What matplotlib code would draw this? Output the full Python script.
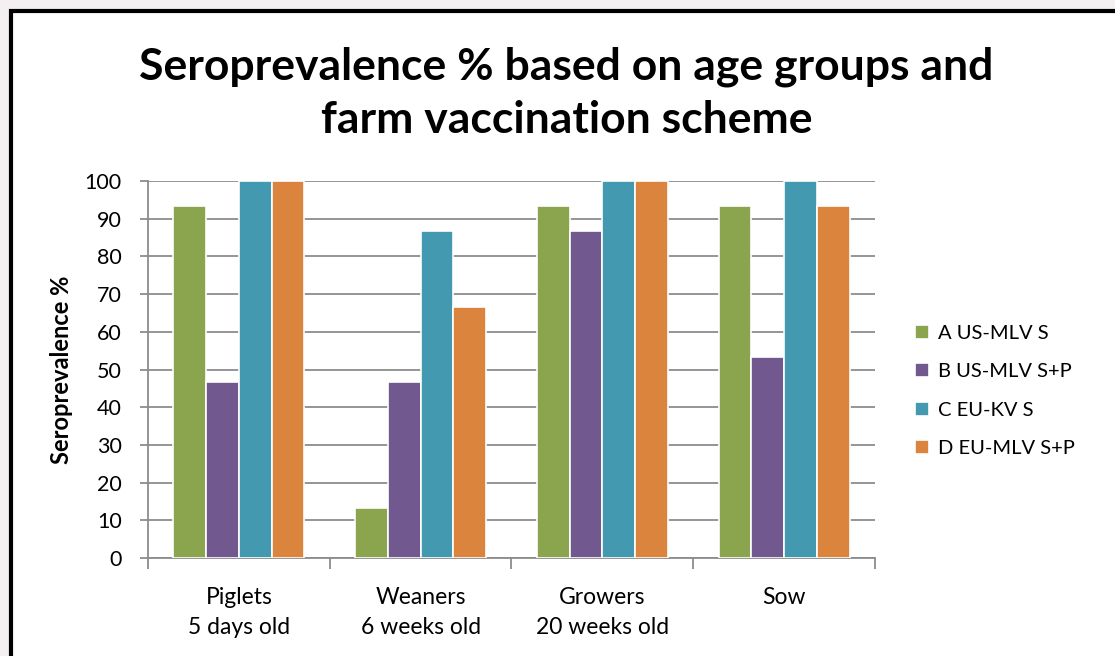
import matplotlib
matplotlib.use("Agg")
import matplotlib.pyplot as plt
import numpy as np
from matplotlib.patches import Rectangle

# data
categories = ["Piglets\n5 days old", "Weaners\n6 weeks old", "Growers\n20 weeks old", "Sow"]
series_names = ["A US-MLV S", "B US-MLV S+P", "C EU-KV S", "D EU-MLV S+P"]
farm_a = [93.3, 13.3, 93.3, 93.3]
farm_b = [46.7, 46.7, 86.7, 53.3]
farm_c = [100, 86.7, 100, 100]
farm_d = [100, 66.7, 100, 93.3]
yticks = list(range(0, 101, 10))

colors = ["#8BA54E", "#71588F", "#4299B0", "#DB843D"]

plt.rcParams['font.family'] = ['Lato', 'DejaVu Sans']

fig = plt.figure(figsize=(11.15, 6.56), dpi=100, facecolor="#F4F0F1")
# white chart area with black frame
fig.patches.append(Rectangle((11 / 1115, -0.1), 1.2, (646 + 65) / 656,
                             transform=fig.transFigure, facecolor="white",
                             edgecolor="black", lw=3, zorder=-5))

ax = fig.add_axes([148 / 1115, 1 - 558 / 656, (875 - 148) / 1115, (558 - 181) / 656])
ax.set_zorder(2)
ax.set_facecolor("white")

x = np.arange(len(categories))
w = 0.18
for i, vals in enumerate([farm_a, farm_b, farm_c, farm_d]):
    ax.bar(x + (i - 1.5) * w, vals, w, color=colors[i], edgecolor="white",
           linewidth=1.2, label=series_names[i], zorder=3)

ax.set_xlim(-0.5, len(categories) - 0.5)
ax.set_ylim(0, 100)
ax.set_yticks(yticks)
ax.yaxis.grid(True, color="#8C8C8C", lw=1.3, zorder=0)
ax.set_axisbelow(True)

for s in ["top", "right"]:
    ax.spines[s].set_visible(False)
ax.spines["left"].set_color("#8C8C8C")
ax.spines["bottom"].set_color("#8C8C8C")
ax.spines["left"].set_linewidth(1.3)
ax.spines["bottom"].set_linewidth(1.3)

ax.set_xticks(x)
ax.set_xticklabels(categories, fontsize=16.5, linespacing=1.5)
ax.tick_params(axis="x", length=0, pad=21)
ax.set_xticks(np.arange(-0.5, len(categories)), minor=True)
ax.tick_params(axis="x", which="minor", length=8, width=1.3, color="#8C8C8C")
ax.tick_params(axis="y", length=6, width=1.3, color="#8C8C8C", labelsize=15.5, pad=13)

ax.set_ylabel("Seroprevalence %", fontsize=17, fontweight="bold", labelpad=8)

fig.text(0.508, 1 - 93 / 656, "Seroprevalence % based on age groups and\nfarm vaccination scheme",
         ha="center", va="center", fontsize=32, fontweight="bold", linespacing=1.4)

ax.legend(loc="center left", bbox_to_anchor=(1.03, 0.443), frameon=False,
          fontsize=14.5, handlelength=0.7, handleheight=0.7, labelspacing=1.06,
          handletextpad=0.45)

fig.savefig("out.png", dpi=100, facecolor=fig.get_facecolor())
